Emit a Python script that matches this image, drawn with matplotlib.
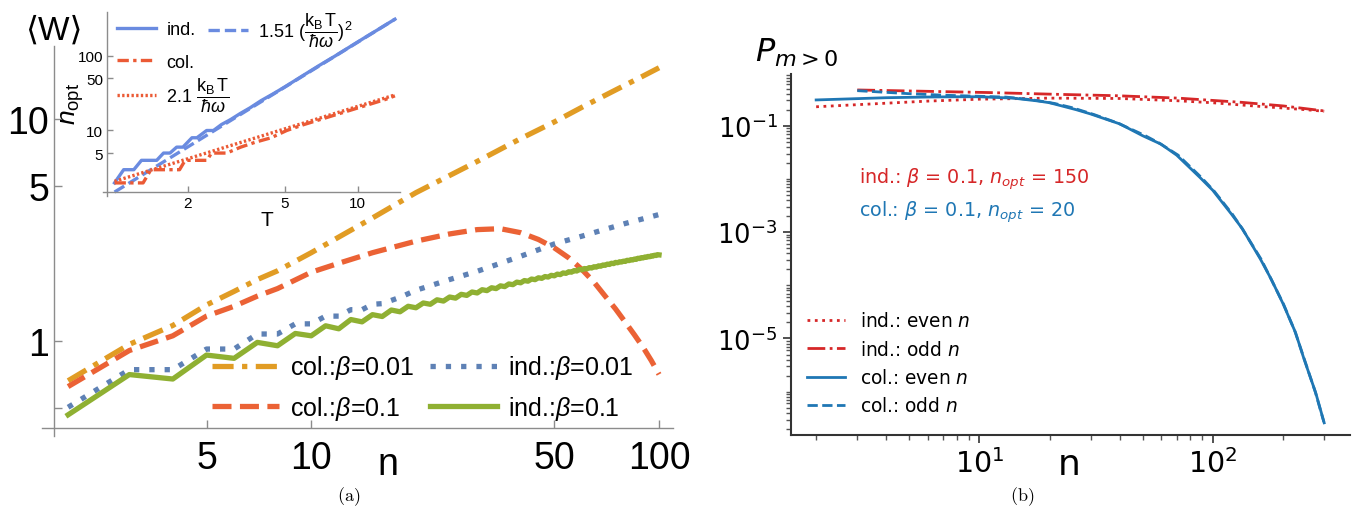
import numpy as np
import matplotlib
matplotlib.use("Agg")
import matplotlib.pyplot as plt
from matplotlib.ticker import FixedLocator, NullLocator, NullFormatter, LogLocator

plt.rcParams["mathtext.rm"] = "Liberation Sans"
plt.rcParams["mathtext.it"] = "Liberation Sans:italic"
plt.rcParams["mathtext.bf"] = "Liberation Sans:bold"
plt.rcParams["mathtext.sf"] = "Liberation Sans"

MMA = ["Liberation Sans", "DejaVu Sans"]

# ---- panel (a): mean work vs n ----
n_col01 = [2, 3, 4, 5, 6, 7, 8, 10, 15, 20, 30, 40, 50, 60, 70, 80, 90, 100]
w_col01 = [0.665, 0.97, 1.18, 1.46, 1.68, 1.9, 2.08, 2.51, 3.6, 4.68, 6.47, 8.2,
           9.75, 11.35, 12.85, 14.3, 15.7, 17.1]

n_col1 = [2, 3, 4, 5, 6, 7, 8, 10, 12, 15, 20, 25, 30, 35, 40, 45, 50, 55, 60,
          65, 70, 75, 80, 85, 90, 95, 100]
w_col1 = [0.626, 0.91, 1.06, 1.30, 1.44, 1.60, 1.73, 2.05, 2.25, 2.51, 2.83, 3.05,
          3.19, 3.22, 3.09, 2.88, 2.64, 2.38, 2.11, 1.85, 1.60, 1.40, 1.22, 1.07,
          0.94, 0.82, 0.71]

n_ind01 = [2, 3, 4, 5, 6, 7, 8, 9, 10, 11, 12, 13, 14, 15, 16, 18, 20, 25, 30, 35,
           40, 50, 60, 70, 80, 90, 100]
w_ind01 = [0.505, 0.746, 0.746, 0.924, 0.924, 1.08, 1.08, 1.20, 1.20, 1.30, 1.30,
           1.39, 1.39, 1.47, 1.48, 1.58, 1.70, 1.90, 2.07, 2.25, 2.42, 2.75, 2.98,
           3.2, 3.4, 3.57, 3.73]

# ind. beta=0.1 zig-zags between even and odd n
n_ind1_even = list(range(2, 101, 2))
w_ind1_even = [0.467, 0.677, 0.839, 0.956, 1.06, 1.14, 1.225, 1.295, 1.36, 1.418,
               1.47, 1.52, 1.567, 1.612, 1.653, 1.694, 1.73, 1.766, 1.802, 1.837,
               1.868, 1.898, 1.924, 1.95, 1.975, 2.0, 2.026, 2.051, 2.076, 2.101,
               2.122, 2.142, 2.162, 2.182, 2.202, 2.222, 2.242, 2.262, 2.278, 2.293,
               2.313, 2.328, 2.343, 2.363, 2.378, 2.393, 2.408, 2.423, 2.438, 2.455]
n_ind1_odd = list(range(3, 100, 2))
w_ind1_odd = [0.709, 0.868, 0.99, 1.086, 1.176, 1.255, 1.32, 1.385, 1.44, 1.49,
              1.54, 1.585, 1.63, 1.67, 1.71, 1.745, 1.78, 1.815, 1.85, 1.88, 1.91,
              1.935, 1.96, 1.985, 2.01, 2.035, 2.06, 2.085, 2.11, 2.13, 2.15, 2.17,
              2.19, 2.21, 2.23, 2.25, 2.27, 2.285, 2.30, 2.32, 2.335, 2.35, 2.37,
              2.385, 2.40, 2.415, 2.43, 2.445, 2.46]

# inset: optimal n vs temperature
T_ind = [1.0, 1.09, 1.2, 1.29, 1.49, 1.59, 1.69, 1.8, 1.91, 2.08, 2.18, 2.39, 2.55,
         2.75, 3.0, 3.3, 3.6, 4.0, 4.5, 5, 6, 7, 8, 9, 10, 11, 12, 13, 14.2]
nopt_ind = [2, 3, 3, 4, 4, 5, 5, 6, 6, 8, 8, 10, 10, 12, 14, 17, 20, 25, 31, 38,
            55, 75, 97, 123, 152, 184, 218, 256, 305]
T_col = [1.0, 1.31, 1.41, 1.85, 1.95, 2.4, 2.5, 2.89, 3.3, 3.8, 4.4, 5.1, 6, 7, 8,
         9, 10, 11, 12, 13, 14.2]
nopt_col = [2, 2, 3, 3, 4, 4, 5, 5, 6, 7, 8, 10, 12, 14, 16, 18, 20, 22, 24, 26, 29]
T_fit = [1.0, 14.2]
fit_ind = [1.51, 304.5]   # 1.51 (kT/hw)^2
fit_col = [2.1, 29.8]     # 2.1 kT/hw

# ---- panel (b): P_{m>0} vs n ----
n_ind_even = [2, 4, 6, 10, 20, 40, 70, 100, 150, 200, 250, 300]
p_ind_even = [0.227, 0.265, 0.29, 0.315, 0.33, 0.325, 0.295, 0.27, 0.235, 0.215,
              0.2, 0.187]
n_ind_odd = [3, 5, 11, 21, 39, 71, 133, 201, 299]
p_ind_odd = [0.47, 0.45, 0.42, 0.39, 0.366, 0.33, 0.275, 0.235, 0.19]
n_col_even = [2, 4, 6, 8, 10, 14, 18, 20, 26, 30, 40, 50, 60, 70, 88, 100, 120, 134,
              160, 178, 200, 226, 246, 276, 300]
p_col_even = [0.305, 0.336, 0.346, 0.35, 0.35, 0.33, 0.29, 0.27, 0.2, 0.166, 0.108,
              0.065, 0.045, 0.028, 0.0107, 6.1e-3, 2.2e-3, 1.15e-3, 3.1e-4, 1.3e-4,
              4.5e-5, 1.3e-5, 4.1e-6, 9.5e-7, 2.6e-7]
n_col_odd = [3, 5, 7, 9, 13, 17, 21, 25, 31, 39, 51, 59, 71, 89, 101, 121, 133, 161,
             177, 201, 225, 247, 275, 299]
p_col_odd = [0.456, 0.40, 0.375, 0.362, 0.345, 0.305, 0.262, 0.218, 0.162, 0.113,
             0.066, 0.047, 0.028, 0.0108, 6.0e-3, 2.2e-3, 1.2e-3, 3.1e-4, 1.35e-4,
             4.4e-5, 1.35e-5, 4.0e-6, 9.8e-7, 2.7e-7]

ORANGE, RED, BLUE, GREEN = "#E19C24", "#EB6235", "#5E81B5", "#8FB032"
INS_BLUE, INS_RED = "#6A8BE0", "#EB5A35"
AXGRAY = "#8c8c8c"
W, H = 1354, 510


def fx(px):
    return px / W


def fy(py):
    return 1 - py / H


def mma_texts(objs):
    for t in objs:
        t.set_fontfamily(MMA)
        t.set_math_fontfamily("custom")


fig = plt.figure(figsize=(W / 100, H / 100), dpi=100)

# ---------------- panel (a) ----------------
ax = fig.add_axes([fx(42.3), fy(436.7), fx(673.3 - 42.3), (436.7 - 46.7) / H])
ax.set_xscale("log")
ax.set_yscale("log")
ax.patch.set_alpha(0)

n_ind1 = np.array(n_ind1_even + n_ind1_odd)
w_ind1 = np.array(w_ind1_even + w_ind1_odd)
order = np.argsort(n_ind1)

h1, = ax.plot(n_col01, w_col01, color=ORANGE, lw=3.8, dashes=(4, 1.6, 1, 1.6),
              label=r"col.:$\beta$=0.01")
h2, = ax.plot(n_col1, w_col1, color=RED, lw=3.8, dashes=(3.6, 1.6),
              label=r"col.:$\beta$=0.1")
h3, = ax.plot(n_ind01, w_ind01, color=BLUE, lw=3.8, dashes=(1, 1.9),
              label=r"ind.:$\beta$=0.01")
h4, = ax.plot(n_ind1[order], w_ind1[order], color=GREEN, lw=3.8,
              label=r"ind.:$\beta$=0.1")

ax.set_xlim(1.686, 109.9)
ax.set_ylim(0.376, 21.5)
for s in ("top", "right"):
    ax.spines[s].set_visible(False)
ax.spines["left"].set_position(("data", 1.826))
ax.spines["bottom"].set_position(("data", 0.406))
for s in ("left", "bottom"):
    ax.spines[s].set_color(AXGRAY)
    ax.spines[s].set_linewidth(1.0)

ax.set_xticks([5, 10, 50, 100], labels=["5", "10", "50", "100"])
ax.set_yticks([0.5, 1, 5, 10], labels=["", "1", "5", "10"])
ax.xaxis.set_minor_locator(NullLocator())
ax.yaxis.set_minor_locator(NullLocator())
ax.tick_params(axis="both", direction="in", length=6, width=1, color=AXGRAY,
               labelsize=27)
ax.tick_params(axis="x", pad=8.5)
ax.tick_params(axis="y", pad=3.6)
mma_texts(ax.get_xticklabels() + ax.get_yticklabels())

leg = ax.legend(handles=[h1, h2, h3, h4], ncol=2, loc="center",
                bbox_to_anchor=(0.603, 0.123), frameon=False,
                prop={"family": MMA, "size": 18}, handlelength=2.7,
                handletextpad=0.45, columnspacing=0.6, labelspacing=0.5)
mma_texts(leg.get_texts())

fig.text(fx(54), fy(31), "⟨W⟩", family=MMA, fontsize=24, ha="center", va="center")
fig.text(fx(388), fy(475), "n", family=MMA, fontsize=27, ha="center", va="baseline")

# inset
axin = fig.add_axes([fx(103.3), fy(196.7), fx(400 - 103.3), (196.7 - 13.3) / H])
axin.set_xscale("log")
axin.set_yscale("log")
axin.patch.set_alpha(0)
i1, = axin.plot(T_ind, nopt_ind, color=INS_BLUE, lw=2.4)
i2, = axin.plot(T_fit, fit_ind, color=INS_BLUE, lw=2.4, dashes=(3.4, 1.5))
i3, = axin.plot(T_col, nopt_col, color=INS_RED, lw=2.4, dashes=(3.4, 1.3, 1, 1.3))
i4, = axin.plot(T_fit, fit_col, color=INS_RED, lw=2.4, dashes=(0.7, 0.7))
axin.set_xlim(0.899, 14.9)
axin.set_ylim(1.35, 377)
for s in ("top", "right"):
    axin.spines[s].set_visible(False)
axin.spines["left"].set_position(("data", 0.934))
axin.spines["bottom"].set_position(("data", 1.53))
for s in ("left", "bottom"):
    axin.spines[s].set_color(AXGRAY)
    axin.spines[s].set_linewidth(1.0)
axin.set_xticks([2, 5, 10], labels=["2", "5", "10"])
axin.set_yticks([5, 10, 50, 100], labels=["5", "10", "50", "100"])
axin.xaxis.set_minor_locator(NullLocator())
axin.yaxis.set_minor_locator(NullLocator())
axin.tick_params(axis="both", direction="in", length=4, width=1, color=AXGRAY,
                 labelsize=11, pad=3)
mma_texts(axin.get_xticklabels() + axin.get_yticklabels())
fig.text(fx(266.7), fy(221), "T", family=MMA, fontsize=15, ha="center", va="center")
t = fig.text(fx(73), fy(104), r"$n_{\mathrm{opt}}$", fontsize=19, rotation=90,
             ha="center", va="center")
t.set_math_fontfamily("custom")

frac = r"\dfrac{\mathrm{k_B\,T}}{\hbar\omega}"
inset_keys = [
    (i1, "ind.", 116.7, 30.7),
    (i2, r"1.51 $(" + frac + r")^2$", 208, 30.7),
    (i3, "col.", 116.7, 63.3),
    (i4, r"2.1 $" + frac + r"$", 116.7, 95.5),
]
for hnd, lab, px, py in inset_keys:
    lg = axin.legend(handles=[hnd], labels=[lab], loc="center left",
                     bbox_to_anchor=(fx(px), fy(py)), bbox_transform=fig.transFigure,
                     frameon=False, borderpad=0, borderaxespad=0,
                     handlelength=2.2, handletextpad=0.55,
                     prop={"family": MMA, "size": 13})
    mma_texts(lg.get_texts())
    axin.add_artist(lg)
axin.legend_ = None

fig.text(fx(349), fy(497), r"$\mathrm{(a)}$", math_fontfamily="cm", fontsize=13,
         ha="center", va="center")

# ---------------- panel (b) ----------------
ax2 = fig.add_axes([fx(790.7), fy(436), fx(1350 - 790.7), (436 - 75) / H])
ax2.set_xscale("log")
ax2.set_yscale("log")
ax2.plot(n_ind_even, p_ind_even, color="#d62728", lw=2, ls=":",
         label=r"ind.: even $n$")
ax2.plot(n_ind_odd, p_ind_odd, color="#d62728", lw=2, ls="-.",
         label=r"ind.: odd $n$")
ax2.plot(n_col_even, p_col_even, color="#1f77b4", lw=2, ls="-",
         label=r"col.: even $n$")
ax2.plot(n_col_odd, p_col_odd, color="#1f77b4", lw=2, ls="--",
         label=r"col.: odd $n$")
ax2.set_xlim(1.556, 387)
ax2.set_ylim(10 ** -6.814, 10 ** -0.028)
for s in ("top", "right"):
    ax2.spines[s].set_visible(False)
for s in ("left", "bottom"):
    ax2.spines[s].set_color("#333333")
    ax2.spines[s].set_linewidth(1.5)
ax2.yaxis.set_major_locator(FixedLocator([1e-5, 1e-3, 1e-1]))
ax2.yaxis.set_minor_locator(LogLocator(base=10, subs=np.arange(1, 10), numticks=100))
ax2.xaxis.set_minor_locator(LogLocator(base=10, subs=np.arange(2, 10), numticks=100))
ax2.xaxis.set_minor_formatter(NullFormatter())
ax2.yaxis.set_minor_formatter(NullFormatter())
ax2.tick_params(which="major", length=6, width=1.2, color="#333333")
ax2.tick_params(which="minor", length=3.5, width=1, color="#555555")
ax2.tick_params(axis="x", which="major", labelsize=20.5)
ax2.tick_params(axis="y", which="major", labelsize=18.5)

ax2.legend(loc="lower left", bbox_to_anchor=(0, 0.008), frameon=False,
           fontsize=13.4)
ax2.text(0.122, 0.698, r"ind.: $\beta$ = 0.1, $n_{opt}$ = 150", color="#d62728",
         transform=ax2.transAxes, fontsize=13.8, va="baseline")
ax2.text(0.122, 0.6075, r"col.: $\beta$ = 0.1, $n_{opt}$ = 20", color="#1f77b4",
         transform=ax2.transAxes, fontsize=13.8, va="baseline")

fig.text(fx(755), fy(62), r"$P_{m>0}$", fontsize=23, ha="left", va="baseline")
fig.text(fx(1069), fy(475), "n", fontsize=26, ha="center", va="baseline")
fig.text(fx(1022), fy(497), r"$\mathrm{(b)}$", math_fontfamily="cm", fontsize=13,
         ha="center", va="center")

fig.savefig("out.png", dpi=100)
